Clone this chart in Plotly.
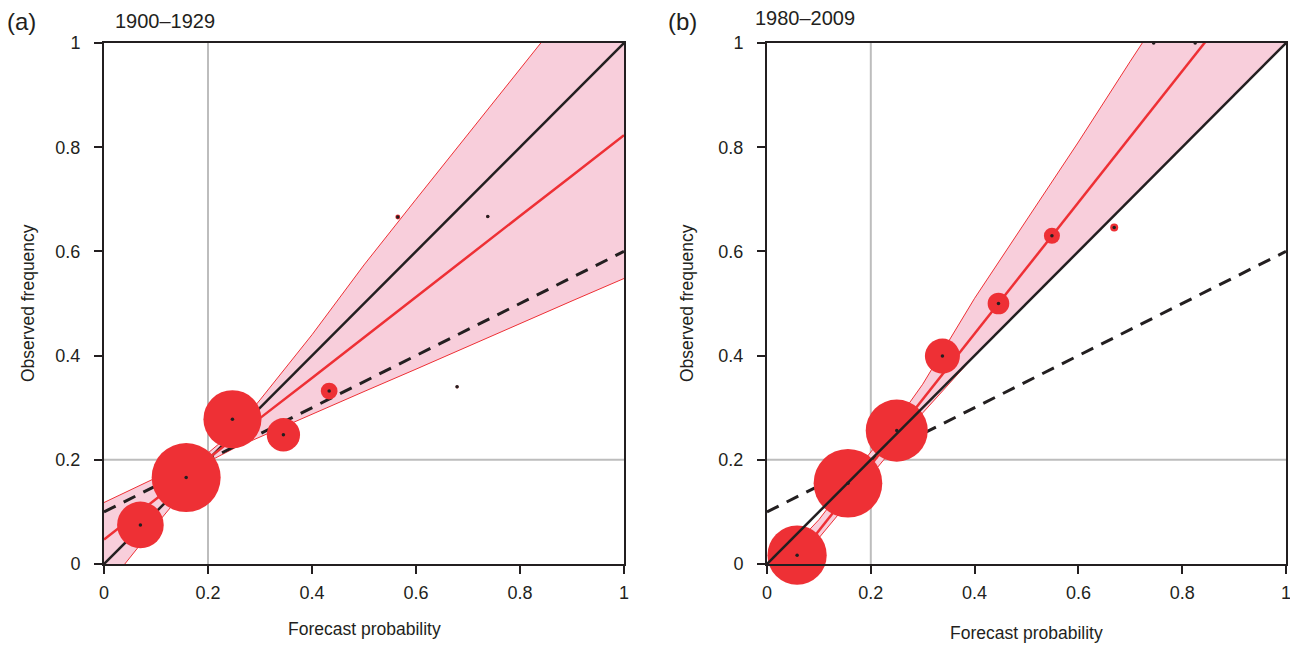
import plotly.graph_objects as go

# ---------------- data ----------------
# Panel (a) 1900-1929 : reliability points (forecast prob, observed freq, relative frequency of use)
a_fp = [0.070, 0.158, 0.247, 0.345, 0.433, 0.565, 0.679, 0.738]
a_of = [0.075, 0.166, 0.278, 0.248, 0.332, 0.666, 0.340, 0.667]
a_n = [0.186, 0.407, 0.288, 0.095, 0.024, 0.0021, 0.0008, 0.0008]

# Panel (b) 1980-2009
b_fp = [0.058, 0.156, 0.250, 0.338, 0.446, 0.549, 0.669, 0.745, 0.825]
b_of = [0.017, 0.155, 0.256, 0.399, 0.500, 0.630, 0.646, 1.000, 1.000]
b_n = [0.300, 0.403, 0.329, 0.105, 0.040, 0.022, 0.0055, 0.0004, 0.0004]

# fitted regression lines and confidence bands
band_x = [0.0, 0.1, 0.15, 0.2, 0.25, 0.3, 0.4, 0.5, 0.6, 0.7, 0.8, 0.9, 1.0]
a_fit = [0.047, 0.125, 0.163, 0.202, 0.241, 0.280, 0.357, 0.435, 0.512, 0.590, 0.668, 0.745, 0.823]
a_upper = [0.118, 0.165, 0.189, 0.213, 0.255, 0.315, 0.440, 0.574, 0.700, 0.825, 0.950, 1.075, 1.200]
a_lower = [-0.050, 0.075, 0.135, 0.196, 0.222, 0.244, 0.287, 0.331, 0.374, 0.418, 0.461, 0.505, 0.548]

b_fit = [-0.062, 0.064, 0.127, 0.190, 0.253, 0.316, 0.442, 0.568, 0.694, 0.820, 0.946, 1.072, 1.198]
b_upper = [-0.020, 0.085, 0.150, 0.215, 0.275, 0.345, 0.510, 0.660, 0.810, 0.965, 1.120, 1.270, 1.420]
b_lower = [-0.120, 0.050, 0.110, 0.170, 0.230, 0.290, 0.400, 0.500, 0.600, 0.700, 0.800, 0.900, 1.000]

diag_x = [0.0, 1.0]
noskill_y = [0.10, 0.60]
climatology = 0.2

ticks = [0, 0.2, 0.4, 0.6, 0.8, 1]
tick_text = ["0", "0.2", "0.4", "0.6", "0.8", "1"]

# ---------------- style ----------------
RED = "#ee3035"
PINK = "rgba(248,206,219,1)"
INK = "#231f20"
GREY = "#bdbdbd"
FONT = "Liberation Sans, Arial, Helvetica, sans-serif"
SIZEREF = 2 * 0.407 / 69.0 ** 2

W, H = 1290, 646
fig = go.Figure()


def add_panel(xa, ya, fp, of, n, fit, upper, lower, diag_on_top):
    # band
    fig.add_trace(go.Scatter(x=band_x, y=lower, mode="lines",
                             line=dict(color=RED, width=1), xaxis=xa, yaxis=ya,
                             showlegend=False, hoverinfo="skip"))
    fig.add_trace(go.Scatter(x=band_x, y=upper, mode="lines", fill="tonexty",
                             fillcolor=PINK, line=dict(color=RED, width=1),
                             xaxis=xa, yaxis=ya, showlegend=False, hoverinfo="skip"))
    # no-skill dashed
    fig.add_trace(go.Scatter(x=diag_x, y=noskill_y, mode="lines",
                             line=dict(color=INK, width=3, dash="13px,9px"),
                             xaxis=xa, yaxis=ya, showlegend=False))
    diag = go.Scatter(x=diag_x, y=diag_x, mode="lines",
                      line=dict(color=INK, width=2.5),
                      xaxis=xa, yaxis=ya, showlegend=False)
    if not diag_on_top:
        fig.add_trace(diag)
    # fit line
    fig.add_trace(go.Scatter(x=band_x, y=fit, mode="lines",
                             line=dict(color=RED, width=2.5),
                             xaxis=xa, yaxis=ya, showlegend=False))
    # bubbles
    fig.add_trace(go.Scatter(x=fp, y=of, mode="markers",
                             marker=dict(size=n, sizemode="area", sizeref=SIZEREF,
                                         sizemin=0, color=RED, opacity=1,
                                         line=dict(width=0)),
                             xaxis=xa, yaxis=ya, showlegend=False, cliponaxis=False))
    if diag_on_top:
        fig.add_trace(diag)
    # centre dots
    fig.add_trace(go.Scatter(x=fp, y=of, mode="markers",
                             marker=dict(size=3.5, color=INK, opacity=1,
                                         line=dict(width=0)),
                             xaxis=xa, yaxis=ya, showlegend=False, cliponaxis=False))


add_panel("x", "y", a_fp, a_of, a_n, a_fit, a_upper, a_lower, False)
add_panel("x2", "y2", b_fp, b_of, b_n, b_fit, b_upper, b_lower, True)

x_doms = [[104 / W, 624 / W], [767 / W, 1286 / W]]
y_dom = [1 - 564 / H, 1 - 43 / H]

axis_common = dict(range=[0, 1], tickvals=ticks, ticktext=tick_text, ticks="outside",
                   ticklen=8, tickwidth=2, tickcolor=INK, showline=True, linewidth=2,
                   linecolor=INK, mirror=True, showgrid=False, zeroline=False,
                   automargin=False, ticklabeloverflow="allow",
                   tickfont=dict(family=FONT, size=18, color=INK), fixedrange=True)

layout = dict(width=W, height=H, margin=dict(l=0, r=0, t=0, b=0, pad=0),
              paper_bgcolor="white", plot_bgcolor="white", showlegend=False)
for i, suffix in enumerate(["", "2"]):
    layout["xaxis" + suffix] = dict(axis_common, domain=x_doms[i],
                                    anchor="y" + suffix, ticklabelstandoff=3)
    layout["yaxis" + suffix] = dict(axis_common, domain=y_dom,
                                    anchor="x" + suffix, ticklabelstandoff=10)
fig.update_layout(**layout)

# climatology reference lines
shapes = []
for xr, yr in [("x", "y"), ("x2", "y2")]:
    shapes.append(dict(type="line", xref=xr, yref=yr, x0=climatology, x1=climatology,
                       y0=0, y1=1, line=dict(color=GREY, width=2), layer="below"))
    shapes.append(dict(type="line", xref=xr, yref=yr, y0=climatology, y1=climatology,
                       x0=0, x1=1, line=dict(color=GREY, width=2), layer="below"))
fig.update_layout(shapes=shapes)

ann = []


def text(x, y, s, size, angle=0, xanchor="center"):
    ann.append(dict(x=x / W, y=1 - y / H, xref="paper", yref="paper", text=s,
                    showarrow=False, textangle=angle, xanchor=xanchor, yanchor="middle",
                    font=dict(family=FONT, size=size, color=INK)))


text(5, 22, "(a)", 24, xanchor="left")
text(113, 21, "1900–1929", 20, xanchor="left")
text(666, 21, "(b)", 24, xanchor="left")
text(753, 18, "1980–2009", 20, xanchor="left")
text(364, 629, "Forecast probability", 17.5)
text(1026, 633, "Forecast probability", 17.5)
text(28, 303, "Observed frequency", 17.5, angle=-90)
text(687, 303, "Observed frequency", 17.5, angle=-90)
fig.update_layout(annotations=ann)

fig.write_html("out.html", config={"displayModeBar": False},
               post_script="document.body.style.margin='0px';")
